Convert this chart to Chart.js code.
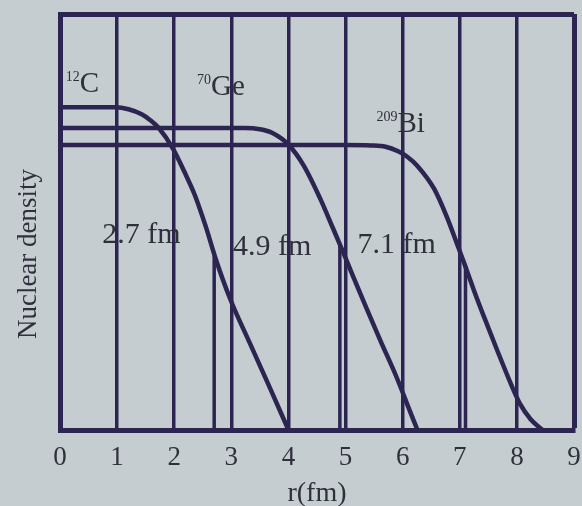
<!DOCTYPE html>
<html>
<head>
<meta charset="utf-8">
<title>Nuclear density</title>
<script src="https://cdn.jsdelivr.net/npm/chart.js@4.4.1/dist/chart.umd.min.js"></script>
<style>
    html, body { margin: 0; padding: 0; background: #c5cdd1; }
    #wrap { width: 582px; height: 506px; }
</style>
</head>
<body>
<div id="wrap"><canvas id="densityChart" width="582" height="506"></canvas></div>
<script>
// radius ticks along the bottom axis (fm)
const radiusTicks = [0, 1, 2, 3, 4, 5, 6, 7, 8, 9];

// density profiles, radius in fm and density in arbitrary units
const carbonR = [0, 0.97, 1.2, 1.43, 1.57, 1.73, 1.98, 2.18, 2.36, 2.55, 2.73, 2.98, 3.32, 3.66, 4.0];
const carbonDensity = [77.6, 77.6, 77.1, 75.9, 74.6, 72.6, 67.6, 62.0, 56.5, 49.0, 41.0, 31.5, 21.0, 10.6, 0];

const germaniumR = [0, 2.0, 3.24, 3.5, 3.72, 4.0, 4.27, 4.56, 4.78, 4.95, 5.13, 5.36, 5.61, 5.89, 6.1, 6.2, 6.26];
const germaniumDensity = [72.6, 72.6, 72.6, 72.3, 71.4, 68.6, 63.5, 55.5, 48.5, 43.0, 37.0, 29.5, 21.5, 12.8, 5.5, 2.0, 0];

const bismuthR = [0, 3.0, 5.0, 5.44, 5.7, 5.92, 6.08, 6.25, 6.55, 6.78, 6.95, 7.08, 7.25, 7.43, 7.66, 7.91, 8.05, 8.24, 8.45];
const bismuthDensity = [68.5, 68.5, 68.5, 68.4, 68.1, 67.0, 65.7, 63.6, 58.0, 51.0, 44.8, 40.0, 33.5, 27.0, 19.0, 10.6, 6.4, 2.6, 0];

// half-density radii and where their drop lines meet the curves
const halfRadius = [2.7, 4.9, 7.1];
const halfRadiusTop = [42, 44.5, 39.5];
const halfRadiusLabels = ['2.7 fm', '4.9 fm', '7.1 fm'];

// isotope names
const isotopeMass = ['12', '70', '209'];
const isotopeSymbol = ['C', 'Ge', 'Bi'];

const ink = '#2d2551';
const textColor = '#302f3c';
const serif = '"Liberation Serif", "Times New Roman", serif';

// text anchors in axis units [r, density]
const isotopeSpots = [[0.1, 81.3], [2.4, 80.6], [5.54, 71.6]];
const halfRadiusSpots = [[0.74, 45], [3.03, 42.1], [5.21, 42.5]];

function toPoints(xs, ys) {
    return xs.map((x, i) => ({ x: x, y: ys[i] }));
}

function curve(xs, ys) {
    return {
        data: toPoints(xs, ys),
        borderColor: ink,
        borderWidth: 4.5,
        pointRadius: 0,
        cubicInterpolationMode: 'monotone',
        fill: false
    };
}

const datasets = [
    curve(carbonR, carbonDensity),
    curve(germaniumR, germaniumDensity),
    curve(bismuthR, bismuthDensity)
];

halfRadius.forEach((r, i) => {
    datasets.push({
        data: [{ x: r, y: 0 }, { x: r, y: halfRadiusTop[i] }],
        borderColor: ink,
        borderWidth: 3.5,
        pointRadius: 0,
        fill: false
    });
});

// axis title, isotope names and radius labels
const annotate = {
    id: 'annotate',
    afterDraw(chart) {
        const { ctx, chartArea } = chart;
        const x = chart.scales.x;
        const y = chart.scales.y;
        ctx.save();
        ctx.fillStyle = textColor;
        ctx.textBaseline = 'alphabetic';

        ctx.save();
        ctx.translate(36, (chartArea.top + chartArea.bottom) / 2 + 32);
        ctx.rotate(-Math.PI / 2);
        ctx.textAlign = 'center';
        ctx.font = '27px ' + serif;
        ctx.fillText('Nuclear density', 0, 0);
        ctx.restore();

        ctx.textAlign = 'left';
        isotopeMass.forEach((mass, i) => {
            let px = x.getPixelForValue(isotopeSpots[i][0]);
            const py = y.getPixelForValue(isotopeSpots[i][1]);
            ctx.font = '14px ' + serif;
            ctx.fillText(mass, px, py - 11);
            px += ctx.measureText(mass).width;
            ctx.font = '29px ' + serif;
            ctx.fillText(isotopeSymbol[i], px, py);
        });

        ctx.font = '30px ' + serif;
        halfRadiusLabels.forEach((label, i) => {
            ctx.fillText(label, x.getPixelForValue(halfRadiusSpots[i][0]), y.getPixelForValue(halfRadiusSpots[i][1]));
        });
        ctx.restore();
    }
};

new Chart(document.getElementById('densityChart'), {
    type: 'line',
    data: { datasets: datasets },
    options: {
        responsive: false,
        animation: false,
        layout: {
            autoPadding: false,
            padding: { left: 0, top: 14, right: 8, bottom: 0 }
        },
        plugins: {
            legend: { display: false },
            tooltip: { enabled: false }
        },
        scales: {
            x: {
                type: 'linear',
                min: 0,
                max: 9,
                afterFit: s => {
                    s.height = 76;
                    s.paddingLeft = 0;
                    s.paddingRight = 0;
                },
                afterBuildTicks: s => { s.ticks = radiusTicks.map(v => ({ value: v })); },
                ticks: {
                    color: textColor,
                    font: { family: serif, size: 27 },
                    padding: 12,
                    maxRotation: 0,
                    autoSkip: false
                },
                grid: {
                    color: ink,
                    lineWidth: ctx => (ctx.tick && ctx.tick.value === 9 ? 5 : 3.5),
                    drawTicks: false
                },
                border: { display: true, color: ink, width: 5 },
                title: {
                    display: true,
                    text: 'r(fm)',
                    color: textColor,
                    font: { family: serif, size: 28, lineHeight: 1 },
                    padding: { top: 0, bottom: -2 }
                }
            },
            y: {
                type: 'linear',
                min: 0,
                max: 100,
                afterFit: s => { s.width = 60; },
                afterBuildTicks: s => { s.ticks = [{ value: 0 }, { value: 100 }]; },
                ticks: { display: false },
                grid: { color: ink, lineWidth: 5, drawTicks: false },
                border: { display: true, color: ink, width: 5 }
            }
        }
    },
    plugins: [annotate]
});
</script>
</body>
</html>
